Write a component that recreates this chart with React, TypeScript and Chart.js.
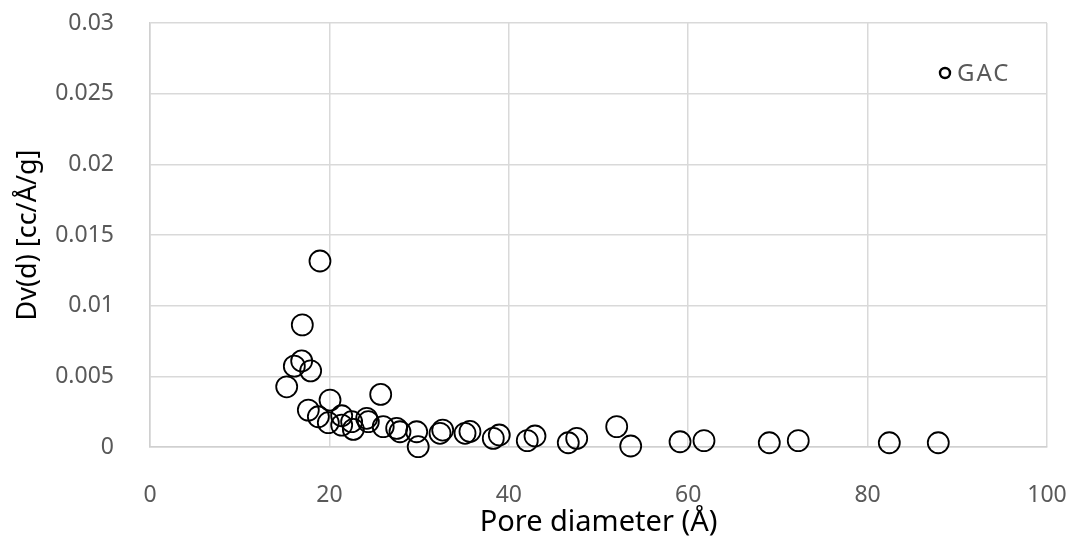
import React, { useEffect, useRef } from "react";
import { Chart, registerables } from "chart.js";

Chart.register(...registerables);

const seriesLabel = "GAC";
const poreDiameter = [
  18.95, 16.98, 16.91, 16.09, 17.91, 15.24, 20.07, 25.72, 17.65, 18.77,
  19.88, 21.37, 21.37, 22.48, 22.67, 24.16, 24.34, 26.0, 27.5, 27.87,
  29.73, 29.9, 32.33, 32.63, 35.12, 35.67, 38.27, 38.94, 42.06, 42.92,
  46.63, 47.57, 52.03, 53.59, 59.09, 61.76, 69.04, 72.27, 82.42, 87.88,
];
const dvd = [
  0.01316, 0.00864, 0.00609, 0.00572, 0.00539, 0.00426, 0.00332, 0.00372, 0.00261, 0.00214,
  0.00172, 0.00221, 0.00155, 0.00179, 0.00125, 0.00203, 0.00179, 0.00144, 0.00132, 0.00108,
  0.00108, 0.00002, 0.00097, 0.0012, 0.00097, 0.0011, 0.00061, 0.00085, 0.00045, 0.00078,
  0.0003, 0.00061, 0.00144, 0.00007, 0.00037, 0.00045, 0.0003, 0.00045, 0.0003, 0.0003,
];
const xTicks = [0, 20, 40, 60, 80, 100];
const yTicks = [0, 0.005, 0.01, 0.015, 0.02, 0.025, 0.03];
const xTitle = "Pore diameter (Å)";
const yTitle = "Dv(d) [cc/Å/g]";

const FONT = "'Noto Sans', sans-serif";

const legendInside = {
  id: "legendInside",
  afterDraw(chart: any) {
    const ctx = chart.ctx;
    const ds = chart.data.datasets[0];
    const x = 945;
    const y = 73;
    ctx.save();
    ctx.beginPath();
    ctx.arc(x, y, 5, 0, Math.PI * 2);
    ctx.lineWidth = 2.4;
    ctx.strokeStyle = "#000";
    ctx.stroke();
    ctx.fillStyle = "#595959";
    ctx.font = `24px ${FONT}`;
    try {
      (ctx as any).letterSpacing = "2px";
    } catch (e) {}
    ctx.textBaseline = "middle";
    ctx.textAlign = "left";
    ctx.fillText(ds.label, 957, y + 1);
    ctx.restore();
  },
};

export default function App() {
  const ref = useRef<HTMLCanvasElement>(null);
  useEffect(() => {
    document.body.style.margin = "0";
    const points = poreDiameter.map((x, i) => ({ x, y: dvd[i] }));
    const chart = new Chart(ref.current!, {
      type: "scatter",
      data: {
        datasets: [
          {
            label: seriesLabel,
            data: points,
            pointRadius: 10.5,
            pointBorderWidth: 1.8,
            pointBorderColor: "#000",
            pointBackgroundColor: "rgba(0,0,0,0)",
            borderColor: "#000",
            backgroundColor: "rgba(0,0,0,0)",
            clip: false,
          } as any,
        ],
      },
      options: {
        animation: false,
        responsive: false,
        layout: { padding: { top: 23, right: 29, left: 0, bottom: 0 } },
        plugins: { legend: { display: false }, tooltip: { enabled: false } },
        scales: {
          x: {
            type: "linear",
            min: 0,
            max: 100,
            afterBuildTicks(axis: any) {
              axis.ticks = xTicks.map((v) => ({ value: v }));
            },
            afterFit(axis: any) {
              axis.height = 90;
              axis.paddingLeft = 0;
              axis.paddingRight = 0;
            },
            grid: { color: "#d9d9d9", lineWidth: 1.5, drawTicks: false },
            border: { color: "#d0d0d0", width: 1.5 },
            ticks: {
              color: "#595959",
              font: { family: FONT, size: 23 },
              padding: 35,
              maxRotation: 0,
            },
            title: {
              display: true,
              text: xTitle,
              color: "#000",
              font: { family: FONT, size: 29, lineHeight: 1 },
              padding: { top: 0, bottom: 0 },
            },
          },
          y: {
            type: "linear",
            min: 0,
            max: 0.03,
            afterBuildTicks(axis: any) {
              axis.ticks = yTicks.map((v) => ({ value: v }));
            },
            afterFit(axis: any) {
              axis.width = 150;
              axis.paddingTop = 0;
              axis.paddingBottom = 0;
            },
            grid: { color: "#d9d9d9", lineWidth: 1.5, drawTicks: false },
            border: { color: "#d0d0d0", width: 1.5 },
            ticks: {
              color: "#595959",
              font: { family: FONT, size: 23 },
              padding: 36,
              callback: (v: any) => String(Number(v)),
            },
            title: {
              display: true,
              text: yTitle,
              color: "#000",
              font: { family: FONT, size: 27 },
              padding: { top: 12, bottom: 0 },
            },
          },
        },
      },
      plugins: [legendInside],
    });
    return () => chart.destroy();
  }, []);
  return (
    <div style={{ position: "absolute", left: 0, top: 0, width: 1076, height: 537, background: "#fff" }}>
      <canvas ref={ref} width={1076} height={537} />
    </div>
  );
}
